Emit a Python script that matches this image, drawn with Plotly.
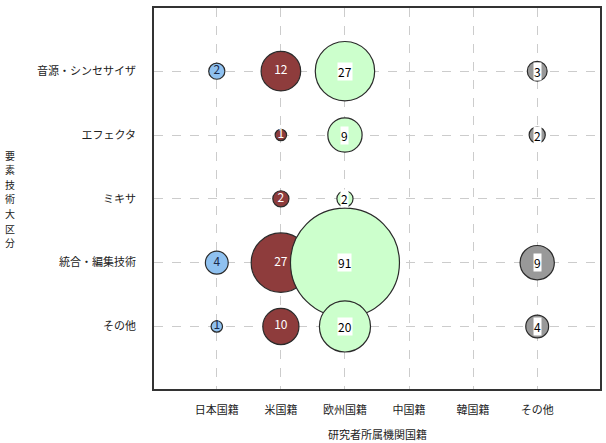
import plotly.graph_objects as go

categories_y = ["音源・シンセサイザ", "エフェクタ", "ミキサ", "統合・編集技術", "その他"]
categories_x = ["日本国籍", "米国籍", "欧州国籍", "中国籍", "韓国籍", "その他"]

japan = [2, 0, 0, 4, 1]
usa = [12, 1, 2, 27, 10]
europe = [27, 9, 2, 91, 20]
china = [0, 0, 0, 0, 0]
korea = [0, 0, 0, 0, 0]
other = [3, 2, 0, 9, 4]

y_title = "要素技術大区分"
x_title = "研究者所属機関国籍"

series = [japan, usa, europe, china, korea, other]
fills = ["#8fc1f0", "#8e3c3c", "#ccffcc", "#cccccc", "#cccccc", "#999999"]
textcolors = ["#1a2a4a", "#ffffff", "#000000", "#000000", "#000000", "#000000"]
boxed = [False, False, True, False, False, True]

sizeref = 2 * 91 / 109 ** 2
font_family = "Noto Sans CJK JP, sans-serif"

fig = go.Figure()
annotations = []
for xi, vals in enumerate(series):
    xs, ys, vs = [], [], []
    for yi, v in enumerate(vals):
        if v > 0:
            xs.append(categories_x[xi])
            ys.append(categories_y[yi])
            vs.append(v)
    if not vs:
        continue
    fig.add_trace(go.Scatter(
        x=xs, y=ys,
        mode="markers" if boxed[xi] else "markers+text",
        text=[str(v) for v in vs],
        textposition="middle center",
        textfont=dict(color=textcolors[xi], size=12, family=font_family),
        marker=dict(size=vs, sizemode="area", sizeref=sizeref, sizemin=0,
                    color=fills[xi], opacity=1,
                    line=dict(color="#2a2a2a", width=1.2)),
        showlegend=False, hoverinfo="skip",
    ))
    if boxed[xi]:
        for x, y, v in zip(xs, ys, vs):
            annotations.append(dict(
                x=x, y=y, xref="x", yref="y", text=str(v), showarrow=False,
                font=dict(color="#000000", size=12, family=font_family),
                bgcolor="#ffffff", borderpad=0,
            ))

plot_h = 443 - 8 - 54
n = len(y_title)
for i, ch in enumerate(y_title):
    ypix = 199 + (i - (n - 1) / 2) * 14.6
    annotations.append(dict(
        text=ch, xref="paper", yref="paper",
        x=(9 - 154) / 448, y=(443 - 54 - ypix) / plot_h,
        xanchor="center", yanchor="middle", showarrow=False,
        borderpad=0, borderwidth=0,
        font=dict(size=10, color="#222222", family=font_family),
    ))

annotations.append(dict(
    text=x_title,
    xref="paper", yref="paper", x=0.5, y=(389 - 424) / plot_h,
    xanchor="center", yanchor="top", showarrow=False,
    font=dict(size=11, color="#222222", family=font_family),
))

fig.update_layout(
    width=606, height=443,
    margin=dict(l=154, r=4, t=8, b=54),
    paper_bgcolor="white", plot_bgcolor="white",
    font=dict(family=font_family, size=11, color="#222222"),
    annotations=annotations,
    xaxis=dict(
        type="category", categoryorder="array", categoryarray=categories_x,
        range=[-0.98, 5.98],
        showgrid=True, gridcolor="#cccccc", griddash="dash", gridwidth=1,
        showline=True, mirror=True, linecolor="#333333", linewidth=1.5,
        ticks="", ticklabelstandoff=10, zeroline=False,
        tickfont=dict(size=11, color="#222222"),
    ),
    yaxis=dict(
        type="category", categoryorder="array", categoryarray=categories_y[::-1],
        range=[-0.98, 4.99],
        showgrid=True, gridcolor="#cccccc", griddash="dash", gridwidth=1,
        showline=True, mirror=True, linecolor="#333333", linewidth=1.5,
        ticks="", ticklabelstandoff=14, zeroline=False,
        tickfont=dict(size=11, color="#222222"),
    ),
)

fig.write_html("out.html")
